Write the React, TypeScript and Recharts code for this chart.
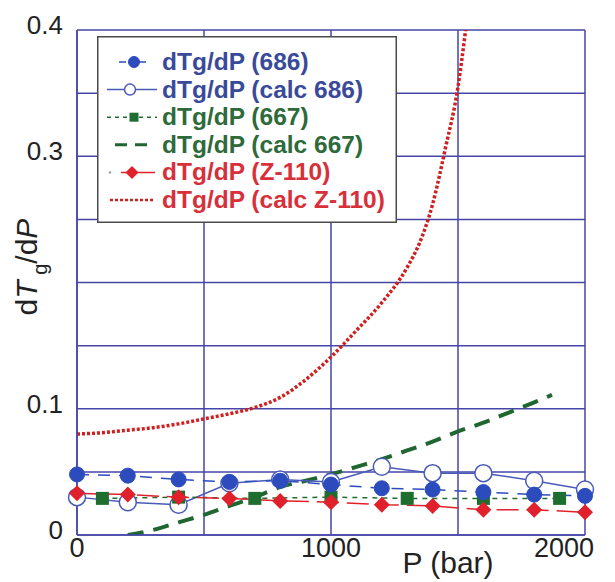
import { LineChart, Line, XAxis, YAxis, CartesianGrid, Legend } from 'recharts';

const GRID = '#4646a8';
const FONT = '"Liberation Sans", Arial, Helvetica, sans-serif';

// pressure (bar) / dTg/dP values
const P_686 = [0, 200, 400, 600, 800, 1000, 1200, 1400, 1600, 1800, 2000];
const DTG_686 = [0.048, 0.047, 0.044, 0.042, 0.043, 0.040, 0.037, 0.036, 0.034, 0.032, 0.031];
const DTG_CALC_686 = [0.030, 0.026, 0.024, 0.041, 0.044, 0.042, 0.054, 0.049, 0.049, 0.043, 0.036];
const DTG_Z110 = [0.033, 0.032, 0.030, 0.029, 0.027, 0.026, 0.024, 0.023, 0.020, 0.020, 0.018];

const P_667 = [100, 400, 700, 1000, 1300, 1600, 1900];
const DTG_667 = [0.029, 0.030, 0.029, 0.030, 0.029, 0.029, 0.029];

const P_CALC_667 = [200, 300, 400, 500, 600, 700, 800, 900, 1000, 1100, 1200, 1300, 1400, 1500, 1600, 1700, 1800, 1870];
const DTG_CALC_667 = [0, 0.004, 0.010, 0.016, 0.023, 0.030, 0.038, 0.043, 0.048, 0.054, 0.060, 0.067, 0.074, 0.082, 0.089, 0.097, 0.105, 0.111];

const P_CALC_Z110 = [0, 100, 200, 300, 400, 500, 600, 700, 800, 900, 1000, 1100, 1200, 1300, 1350, 1400, 1450, 1500, 1530];
const DTG_CALC_Z110 = [0.080, 0.081, 0.083, 0.085, 0.088, 0.092, 0.096, 0.101, 0.109, 0.123, 0.141, 0.162, 0.184, 0.212, 0.232, 0.262, 0.306, 0.355, 0.400];

const X_TICKS = [0, 500, 1000, 1500, 2000];
const X_LABELS = [0, 1000, 2000];
const Y_TICKS = [0, 0.05, 0.1, 0.15, 0.2, 0.25, 0.3, 0.35, 0.4];
const Y_LABELS = [0, 0.1, 0.3, 0.4];

const toPoints = (xs: number[], ys: number[]) => xs.map((P, i) => ({ P, v: ys[i] }));

type MarkerKind = 'circle' | 'open' | 'square' | 'diamond' | 'none';

function marker(kind: MarkerKind, cx: number, cy: number, size: number, color: string, key?: string) {
  if (kind === 'circle') return <circle key={key} cx={cx} cy={cy} r={size} fill={color} stroke={color} />;
  if (kind === 'open') return <circle key={key} cx={cx} cy={cy} r={size} fill="#fff" stroke={color} strokeWidth={1.5} />;
  if (kind === 'square') return <rect key={key} x={cx - size} y={cy - size} width={size * 2} height={size * 2} fill={color} />;
  if (kind === 'diamond')
    return (
      <polygon
        key={key}
        points={`${cx},${cy - size} ${cx + size},${cy} ${cx},${cy + size} ${cx - size},${cy}`}
        fill={color}
      />
    );
  return <g key={key} />;
}

const SERIES = [
  {
    id: '686', name: 'dTg/dP (686)', color: '#2c4bbd', text: '#3a4a9a', marker: 'circle' as MarkerKind, size: 7.5,
    dash: '12 9', width: 1.5, curve: 'linear', data: toPoints(P_686, DTG_686),
    icon: { x1: 22, x2: 56, dash: '7 13', mx: 37, ms: 5.5 },
  },
  {
    id: 'calc686', name: 'dTg/dP (calc 686)', color: '#4a5ab8', text: '#3a4a9a', marker: 'open' as MarkerKind, size: 8.5,
    dash: undefined, width: 1.5, curve: 'linear', data: toPoints(P_686, DTG_CALC_686),
    icon: { x1: 10, x2: 60, dash: undefined, mx: 33, ms: 5.5 },
  },
  {
    id: '667', name: 'dTg/dP (667)', color: '#1e6e30', text: '#2e6a3a', marker: 'square' as MarkerKind, size: 6.5,
    dash: '5 5', width: 1.5, curve: 'linear', data: toPoints(P_667, DTG_667),
    icon: { x1: 10, x2: 60, dash: '4 4', mx: 37, ms: 4.5 },
  },
  {
    id: 'calc667', name: 'dTg/dP (calc 667)', color: '#1f6630', text: '#2e6a3a', marker: 'none' as MarkerKind, size: 0,
    dash: '16 10', width: 4, curve: 'monotone', data: toPoints(P_CALC_667, DTG_CALC_667),
    icon: { x1: 18, x2: 52, dash: '12 8', mx: 0, ms: 0 },
  },
  {
    id: 'z110', name: 'dTg/dP (Z-110)', color: '#e0202a', text: '#d8303a', marker: 'diamond' as MarkerKind, size: 8,
    dash: '22 8', width: 1.5, curve: 'linear', data: toPoints(P_686, DTG_Z110),
    icon: { x1: 24, x2: 58, dash: undefined, mx: 35, ms: 6.5 },
  },
  {
    id: 'calcZ110', name: 'dTg/dP (calc Z-110)', color: '#cf1f1f', text: '#d8303a', marker: 'none' as MarkerKind, size: 0,
    dash: '3 2', width: 3.5, curve: 'monotone', data: toPoints(P_CALC_Z110, DTG_CALC_Z110),
    icon: { x1: 13, x2: 57, dash: '3 2', mx: 0, ms: 0 },
  },
];

const DRAW_ORDER = ['calcZ110', 'calc667', 'calc686', '667', 'z110', '686'];

function LegendBox() {
  return (
    <svg width={300} height={187} style={{ display: 'block' }}>
      <rect x={0.75} y={0.75} width={298.5} height={185.5} fill="#fff" stroke="#4a4a4a" strokeWidth={1.5} />
      {SERIES.map((s, i) => {
        const y = 26 + i * 27.6;
        return (
          <g key={s.id}>
            <line
              x1={s.icon.x1}
              x2={s.icon.x2}
              y1={y}
              y2={y}
              stroke={s.color}
              strokeWidth={s.id === 'calc667' ? 3 : s.id === 'calcZ110' ? 2.5 : 1.5}
              strokeDasharray={s.icon.dash}
            />
            {s.id === 'z110' && <circle cx={13} cy={y} r={1.2} fill="#999" />}
            {s.icon.ms > 0 && marker(s.marker, s.icon.mx, y, s.icon.ms, s.color)}
            <text x={65} y={y + 8} fontSize={24.5} fontWeight="bold" fill={s.text} fontFamily={FONT}>
              {s.name}
            </text>
          </g>
        );
      })}
    </svg>
  );
}

const YTick = (props: any) => {
  const { x, y, payload } = props;
  if (!Y_LABELS.includes(payload.value)) return <g />;
  return (
    <text x={x} y={y + 4} textAnchor="end" fontSize={26} fill="#222" fontFamily={FONT}>
      {String(payload.value)}
    </text>
  );
};

const XTick = (props: any) => {
  const { x, y, payload } = props;
  if (!X_LABELS.includes(payload.value)) return <g />;
  const last = payload.value === 2000;
  return (
    <text x={last ? x + 9 : x} y={y + 14} textAnchor={last ? 'end' : 'middle'} fontSize={27} fill="#222" fontFamily={FONT}>
      {String(payload.value)}
    </text>
  );
};

const YLabel = (props: any) => {
  const vb = props.viewBox;
  const cy = vb.y + vb.height / 2 - 15.5;
  return (
    <g transform={`translate(${vb.x + 37}, ${cy}) rotate(-90)`}>
      <text x={0} y={0} textAnchor="middle" fontSize={30} fill="#222" fontFamily={FONT}>
        <tspan>d</tspan>
        <tspan fontStyle="italic">T</tspan>
        <tspan dy={10} fontSize={20}> g</tspan>
        <tspan dy={-10}>/d</tspan>
        <tspan fontStyle="italic">P</tspan>
      </text>
    </g>
  );
};

const XLabel = (props: any) => {
  const vb = props.viewBox;
  return (
    <text x={vb.x + 371} y={vb.y + 38} textAnchor="middle" fontSize={30} fill="#222" fontFamily={FONT}>
      P (bar)
    </text>
  );
};

export default function App() {
  return (
    <div style={{ position: 'absolute', left: 0, top: 0, width: 615, height: 582, background: '#fff' }}>
      <LineChart width={615} height={582} margin={{ top: 30, right: 30, bottom: 0, left: 0 }}>
        <CartesianGrid stroke={GRID} strokeWidth={1.5} />
        <XAxis
          dataKey="P"
          type="number"
          domain={[0, 2000]}
          ticks={X_TICKS}
          height={47}
          tickSize={0}
          tickMargin={8}
          tickLine={false}
          axisLine={{ stroke: GRID, strokeWidth: 1.5 }}
          tick={<XTick />}
          label={{ content: <XLabel /> }}
        />
        <XAxis
          xAxisId="top"
          orientation="top"
          type="number"
          domain={[0, 2000]}
          height={0}
          tick={false}
          tickLine={false}
          axisLine={{ stroke: GRID, strokeWidth: 1.5 }}
        />
        <YAxis
          type="number"
          domain={[0, 0.4]}
          ticks={Y_TICKS}
          width={77}
          tickSize={0}
          tickMargin={14}
          tickLine={false}
          allowDataOverflow
          axisLine={{ stroke: GRID, strokeWidth: 1.5 }}
          tick={<YTick />}
          label={{ content: <YLabel /> }}
        />
        <YAxis
          yAxisId="right"
          orientation="right"
          type="number"
          domain={[0, 0.4]}
          width={0}
          tick={false}
          tickLine={false}
          axisLine={{ stroke: GRID, strokeWidth: 1.5 }}
        />
        <Legend
          layout="horizontal"
          verticalAlign="middle"
          align="center"
          wrapperStyle={{ left: 97, top: 36, width: 300, height: 187 }}
          content={() => <LegendBox />}
        />
        {DRAW_ORDER.map((id) => {
          const s = SERIES.find((d) => d.id === id)!;
          return (
            <Line
              key={s.id}
              data={s.data}
              dataKey="v"
              name={s.name}
              type={s.curve as any}
              stroke={s.color}
              strokeWidth={s.width}
              strokeDasharray={s.dash}
              isAnimationActive={false}
              activeDot={false}
              dot={
                s.marker === 'none'
                  ? false
                  : (p: any) => marker(s.marker, p.cx, p.cy, s.size, s.color, `${s.id}-${p.index}`)
              }
            />
          );
        })}
      </LineChart>
    </div>
  );
}
